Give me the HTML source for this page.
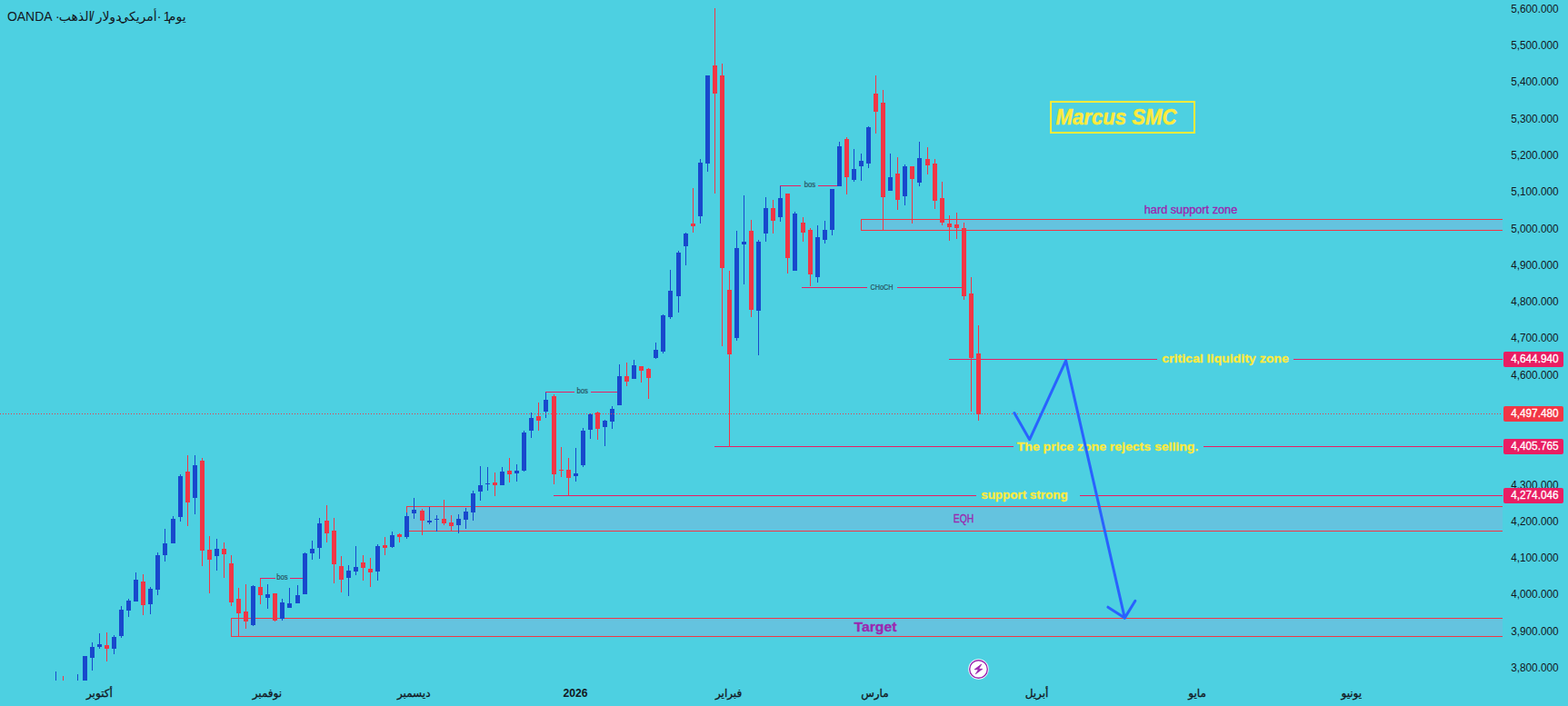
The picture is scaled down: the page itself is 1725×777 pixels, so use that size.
<!DOCTYPE html>
<html><head><meta charset="utf-8"><title>chart</title>
<style>html,body{margin:0;padding:0;background:#4DD0E1;overflow:hidden}body{width:1725px;height:777px;position:relative;font-family:"Liberation Sans",sans-serif}svg{position:absolute;left:0;top:0;display:block}text{font-family:"Liberation Sans","DejaVu Sans",sans-serif}</style>
</head><body>
<svg width="1725" height="777" viewBox="0 0 1725 777">
<rect x="0" y="0" width="1725" height="777" fill="#4DD0E1"/>
<g shape-rendering="crispEdges">
<rect x="947" y="241" width="706" height="13" fill="#64C3DF"/>
<rect x="947" y="241" width="706" height="1" fill="#F23645"/>
<rect x="947" y="253" width="706" height="1" fill="#F23645"/>
<rect x="947" y="241" width="1" height="13" fill="#F23645"/>
<rect x="447" y="557" width="1206" height="28" fill="#64C3DF"/>
<rect x="447" y="557" width="1206" height="1" fill="#F23645"/>
<rect x="447" y="584" width="1206" height="1" fill="#F23645"/>
<rect x="447" y="557" width="1" height="28" fill="#F23645"/>
<rect x="254" y="680" width="1399" height="21" fill="#64C3DF"/>
<rect x="254" y="680" width="1399" height="1" fill="#F23645"/>
<rect x="254" y="700" width="1399" height="1" fill="#F23645"/>
<rect x="254" y="680" width="1" height="21" fill="#F23645"/>
<rect x="1044" y="395" width="229" height="1" fill="#E91E63"/>
<rect x="1423" y="395" width="230" height="1" fill="#E91E63"/>
<rect x="786" y="491" width="329" height="1" fill="#E91E63"/>
<rect x="1324" y="491" width="329" height="1" fill="#E91E63"/>
<rect x="609" y="545" width="465" height="1" fill="#E91E63"/>
<rect x="1188" y="545" width="465" height="1" fill="#E91E63"/>
<rect x="882" y="316" width="72" height="1" fill="#E91E63"/>
<rect x="987" y="316" width="72" height="1" fill="#E91E63"/>
<rect x="286" y="636" width="17" height="1" fill="#E91E63"/>
<rect x="319" y="636" width="14" height="1" fill="#E91E63"/>
<rect x="600" y="431" width="32" height="1" fill="#E91E63"/>
<rect x="650" y="431" width="29" height="1" fill="#E91E63"/>
<rect x="858" y="204" width="23" height="1" fill="#E91E63"/>
<rect x="900" y="204" width="21" height="1" fill="#E91E63"/>
<rect x="61" y="739" width="1" height="10" fill="#1848CC"/>
<rect x="69" y="744" width="1" height="5" fill="#F23645"/>
<rect x="85" y="742" width="1" height="7" fill="#1848CC"/>
<rect x="93" y="722" width="1" height="27" fill="#1848CC"/>
<rect x="91" y="722" width="5" height="27" fill="#1848CC"/>
<rect x="101" y="707" width="1" height="31" fill="#1848CC"/>
<rect x="99" y="712" width="5" height="12" fill="#1848CC"/>
<rect x="109" y="697" width="1" height="17" fill="#1848CC"/>
<rect x="107" y="709" width="5" height="3" fill="#1848CC"/>
<rect x="117" y="696" width="1" height="32" fill="#F23645"/>
<rect x="115" y="710" width="5" height="4" fill="#F23645"/>
<rect x="125" y="699" width="1" height="21" fill="#1848CC"/>
<rect x="123" y="701" width="5" height="13" fill="#1848CC"/>
<rect x="133" y="667" width="1" height="35" fill="#1848CC"/>
<rect x="131" y="671" width="5" height="29" fill="#1848CC"/>
<rect x="141" y="659" width="1" height="20" fill="#1848CC"/>
<rect x="139" y="661" width="5" height="11" fill="#1848CC"/>
<rect x="149" y="630" width="1" height="32" fill="#1848CC"/>
<rect x="147" y="638" width="5" height="24" fill="#1848CC"/>
<rect x="157" y="632" width="1" height="45" fill="#F23645"/>
<rect x="155" y="640" width="5" height="26" fill="#F23645"/>
<rect x="165" y="646" width="1" height="30" fill="#1848CC"/>
<rect x="163" y="648" width="5" height="17" fill="#1848CC"/>
<rect x="173" y="608" width="1" height="47" fill="#1848CC"/>
<rect x="171" y="611" width="5" height="38" fill="#1848CC"/>
<rect x="181" y="582" width="1" height="36" fill="#1848CC"/>
<rect x="179" y="598" width="5" height="13" fill="#1848CC"/>
<rect x="190" y="568" width="1" height="30" fill="#1848CC"/>
<rect x="188" y="571" width="5" height="27" fill="#1848CC"/>
<rect x="198" y="522" width="1" height="52" fill="#1848CC"/>
<rect x="196" y="524" width="5" height="45" fill="#1848CC"/>
<rect x="206" y="501" width="1" height="78" fill="#F23645"/>
<rect x="204" y="519" width="5" height="34" fill="#F23645"/>
<rect x="214" y="501" width="1" height="65" fill="#1848CC"/>
<rect x="212" y="512" width="5" height="36" fill="#1848CC"/>
<rect x="222" y="504" width="1" height="119" fill="#F23645"/>
<rect x="220" y="507" width="5" height="99" fill="#F23645"/>
<rect x="230" y="590" width="1" height="63" fill="#F23645"/>
<rect x="228" y="605" width="5" height="11" fill="#F23645"/>
<rect x="238" y="593" width="1" height="35" fill="#1848CC"/>
<rect x="236" y="604" width="5" height="8" fill="#1848CC"/>
<rect x="246" y="597" width="1" height="39" fill="#F23645"/>
<rect x="244" y="604" width="5" height="6" fill="#F23645"/>
<rect x="254" y="611" width="1" height="56" fill="#F23645"/>
<rect x="252" y="620" width="5" height="43" fill="#F23645"/>
<rect x="262" y="647" width="1" height="53" fill="#F23645"/>
<rect x="260" y="659" width="5" height="16" fill="#F23645"/>
<rect x="270" y="643" width="1" height="49" fill="#F23645"/>
<rect x="268" y="673" width="5" height="11" fill="#F23645"/>
<rect x="278" y="644" width="1" height="45" fill="#1848CC"/>
<rect x="276" y="645" width="5" height="43" fill="#1848CC"/>
<rect x="286" y="637" width="1" height="28" fill="#F23645"/>
<rect x="284" y="646" width="5" height="9" fill="#F23645"/>
<rect x="294" y="643" width="1" height="27" fill="#1848CC"/>
<rect x="292" y="654" width="5" height="4" fill="#1848CC"/>
<rect x="302" y="653" width="1" height="31" fill="#F23645"/>
<rect x="300" y="653" width="5" height="30" fill="#F23645"/>
<rect x="310" y="659" width="1" height="24" fill="#1848CC"/>
<rect x="308" y="663" width="5" height="18" fill="#1848CC"/>
<rect x="318" y="647" width="1" height="22" fill="#1848CC"/>
<rect x="316" y="664" width="5" height="5" fill="#1848CC"/>
<rect x="327" y="644" width="1" height="20" fill="#1848CC"/>
<rect x="325" y="655" width="5" height="9" fill="#1848CC"/>
<rect x="335" y="608" width="1" height="46" fill="#1848CC"/>
<rect x="333" y="609" width="5" height="45" fill="#1848CC"/>
<rect x="343" y="595" width="1" height="21" fill="#1848CC"/>
<rect x="341" y="604" width="5" height="5" fill="#1848CC"/>
<rect x="351" y="570" width="1" height="45" fill="#1848CC"/>
<rect x="349" y="576" width="5" height="27" fill="#1848CC"/>
<rect x="359" y="556" width="1" height="41" fill="#F23645"/>
<rect x="357" y="573" width="5" height="14" fill="#F23645"/>
<rect x="367" y="570" width="1" height="72" fill="#F23645"/>
<rect x="365" y="584" width="5" height="37" fill="#F23645"/>
<rect x="375" y="612" width="1" height="40" fill="#F23645"/>
<rect x="373" y="623" width="5" height="15" fill="#F23645"/>
<rect x="383" y="622" width="1" height="34" fill="#1848CC"/>
<rect x="381" y="628" width="5" height="8" fill="#1848CC"/>
<rect x="391" y="601" width="1" height="32" fill="#1848CC"/>
<rect x="389" y="624" width="5" height="5" fill="#1848CC"/>
<rect x="399" y="611" width="1" height="28" fill="#F23645"/>
<rect x="397" y="619" width="5" height="6" fill="#F23645"/>
<rect x="407" y="614" width="1" height="32" fill="#F23645"/>
<rect x="405" y="626" width="5" height="4" fill="#F23645"/>
<rect x="415" y="599" width="1" height="40" fill="#1848CC"/>
<rect x="413" y="601" width="5" height="28" fill="#1848CC"/>
<rect x="423" y="591" width="1" height="20" fill="#F23645"/>
<rect x="421" y="600" width="5" height="3" fill="#F23645"/>
<rect x="431" y="585" width="1" height="18" fill="#1848CC"/>
<rect x="429" y="589" width="5" height="13" fill="#1848CC"/>
<rect x="439" y="587" width="1" height="10" fill="#F23645"/>
<rect x="437" y="588" width="5" height="3" fill="#F23645"/>
<rect x="447" y="564" width="1" height="29" fill="#1848CC"/>
<rect x="445" y="568" width="5" height="23" fill="#1848CC"/>
<rect x="455" y="548" width="1" height="23" fill="#1848CC"/>
<rect x="453" y="561" width="5" height="4" fill="#1848CC"/>
<rect x="464" y="560" width="1" height="29" fill="#F23645"/>
<rect x="462" y="562" width="5" height="11" fill="#F23645"/>
<rect x="472" y="558" width="1" height="19" fill="#1848CC"/>
<rect x="470" y="573" width="5" height="2" fill="#1848CC"/>
<rect x="480" y="567" width="1" height="18" fill="#1848CC"/>
<rect x="478" y="571" width="5" height="1" fill="#1848CC"/>
<rect x="488" y="550" width="1" height="28" fill="#F23645"/>
<rect x="486" y="571" width="5" height="5" fill="#F23645"/>
<rect x="496" y="567" width="1" height="17" fill="#F23645"/>
<rect x="494" y="575" width="5" height="4" fill="#F23645"/>
<rect x="504" y="566" width="1" height="21" fill="#1848CC"/>
<rect x="502" y="571" width="5" height="7" fill="#1848CC"/>
<rect x="512" y="559" width="1" height="23" fill="#1848CC"/>
<rect x="510" y="563" width="5" height="9" fill="#1848CC"/>
<rect x="520" y="540" width="1" height="33" fill="#1848CC"/>
<rect x="518" y="543" width="5" height="21" fill="#1848CC"/>
<rect x="528" y="513" width="1" height="38" fill="#1848CC"/>
<rect x="526" y="534" width="5" height="7" fill="#1848CC"/>
<rect x="536" y="514" width="1" height="26" fill="#1848CC"/>
<rect x="534" y="532" width="5" height="1" fill="#1848CC"/>
<rect x="544" y="520" width="1" height="26" fill="#F23645"/>
<rect x="542" y="531" width="5" height="3" fill="#F23645"/>
<rect x="552" y="514" width="1" height="20" fill="#1848CC"/>
<rect x="550" y="519" width="5" height="15" fill="#1848CC"/>
<rect x="560" y="504" width="1" height="27" fill="#F23645"/>
<rect x="558" y="518" width="5" height="4" fill="#F23645"/>
<rect x="568" y="511" width="1" height="19" fill="#1848CC"/>
<rect x="566" y="518" width="5" height="3" fill="#1848CC"/>
<rect x="576" y="474" width="1" height="45" fill="#1848CC"/>
<rect x="574" y="476" width="5" height="42" fill="#1848CC"/>
<rect x="584" y="454" width="1" height="28" fill="#1848CC"/>
<rect x="582" y="460" width="5" height="14" fill="#1848CC"/>
<rect x="592" y="443" width="1" height="31" fill="#F23645"/>
<rect x="590" y="458" width="5" height="5" fill="#F23645"/>
<rect x="600" y="432" width="1" height="28" fill="#1848CC"/>
<rect x="598" y="440" width="5" height="13" fill="#1848CC"/>
<rect x="609" y="434" width="1" height="99" fill="#F23645"/>
<rect x="607" y="436" width="5" height="86" fill="#F23645"/>
<rect x="617" y="492" width="1" height="33" fill="#F23645"/>
<rect x="615" y="517" width="5" height="1" fill="#F23645"/>
<rect x="625" y="504" width="1" height="41" fill="#F23645"/>
<rect x="623" y="517" width="5" height="9" fill="#F23645"/>
<rect x="633" y="493" width="1" height="37" fill="#1848CC"/>
<rect x="631" y="521" width="5" height="3" fill="#1848CC"/>
<rect x="641" y="471" width="1" height="43" fill="#1848CC"/>
<rect x="639" y="474" width="5" height="38" fill="#1848CC"/>
<rect x="649" y="455" width="1" height="28" fill="#1848CC"/>
<rect x="647" y="456" width="5" height="17" fill="#1848CC"/>
<rect x="657" y="453" width="1" height="31" fill="#F23645"/>
<rect x="655" y="454" width="5" height="18" fill="#F23645"/>
<rect x="665" y="462" width="1" height="29" fill="#1848CC"/>
<rect x="663" y="463" width="5" height="7" fill="#1848CC"/>
<rect x="673" y="447" width="1" height="25" fill="#1848CC"/>
<rect x="671" y="450" width="5" height="14" fill="#1848CC"/>
<rect x="681" y="401" width="1" height="45" fill="#1848CC"/>
<rect x="679" y="414" width="5" height="32" fill="#1848CC"/>
<rect x="689" y="399" width="1" height="26" fill="#F23645"/>
<rect x="687" y="414" width="5" height="6" fill="#F23645"/>
<rect x="697" y="396" width="1" height="21" fill="#1848CC"/>
<rect x="695" y="402" width="5" height="15" fill="#1848CC"/>
<rect x="705" y="403" width="1" height="18" fill="#F23645"/>
<rect x="703" y="403" width="5" height="5" fill="#F23645"/>
<rect x="713" y="405" width="1" height="34" fill="#F23645"/>
<rect x="711" y="406" width="5" height="10" fill="#F23645"/>
<rect x="721" y="377" width="1" height="18" fill="#1848CC"/>
<rect x="719" y="385" width="5" height="9" fill="#1848CC"/>
<rect x="729" y="346" width="1" height="43" fill="#1848CC"/>
<rect x="727" y="347" width="5" height="40" fill="#1848CC"/>
<rect x="737" y="297" width="1" height="54" fill="#1848CC"/>
<rect x="735" y="320" width="5" height="29" fill="#1848CC"/>
<rect x="746" y="276" width="1" height="68" fill="#1848CC"/>
<rect x="744" y="278" width="5" height="48" fill="#1848CC"/>
<rect x="754" y="256" width="1" height="36" fill="#1848CC"/>
<rect x="752" y="257" width="5" height="14" fill="#1848CC"/>
<rect x="762" y="207" width="1" height="49" fill="#F23645"/>
<rect x="760" y="246" width="5" height="3" fill="#F23645"/>
<rect x="770" y="175" width="1" height="71" fill="#1848CC"/>
<rect x="768" y="179" width="5" height="59" fill="#1848CC"/>
<rect x="778" y="83" width="1" height="106" fill="#1848CC"/>
<rect x="776" y="83" width="5" height="97" fill="#1848CC"/>
<rect x="786" y="9" width="1" height="204" fill="#F23645"/>
<rect x="784" y="72" width="5" height="31" fill="#F23645"/>
<rect x="794" y="70" width="1" height="311" fill="#F23645"/>
<rect x="792" y="83" width="5" height="212" fill="#F23645"/>
<rect x="802" y="298" width="1" height="194" fill="#F23645"/>
<rect x="800" y="319" width="5" height="71" fill="#F23645"/>
<rect x="810" y="254" width="1" height="121" fill="#1848CC"/>
<rect x="808" y="273" width="5" height="99" fill="#1848CC"/>
<rect x="818" y="215" width="1" height="98" fill="#1848CC"/>
<rect x="816" y="266" width="5" height="3" fill="#1848CC"/>
<rect x="826" y="242" width="1" height="107" fill="#F23645"/>
<rect x="824" y="254" width="5" height="87" fill="#F23645"/>
<rect x="834" y="264" width="1" height="127" fill="#1848CC"/>
<rect x="832" y="266" width="5" height="76" fill="#1848CC"/>
<rect x="842" y="217" width="1" height="49" fill="#1848CC"/>
<rect x="840" y="229" width="5" height="28" fill="#1848CC"/>
<rect x="850" y="220" width="1" height="37" fill="#F23645"/>
<rect x="848" y="229" width="5" height="14" fill="#F23645"/>
<rect x="858" y="205" width="1" height="39" fill="#1848CC"/>
<rect x="856" y="218" width="5" height="21" fill="#1848CC"/>
<rect x="866" y="213" width="1" height="88" fill="#F23645"/>
<rect x="864" y="213" width="5" height="71" fill="#F23645"/>
<rect x="874" y="233" width="1" height="65" fill="#1848CC"/>
<rect x="872" y="235" width="5" height="63" fill="#1848CC"/>
<rect x="883" y="239" width="1" height="27" fill="#F23645"/>
<rect x="881" y="245" width="5" height="11" fill="#F23645"/>
<rect x="891" y="251" width="1" height="64" fill="#F23645"/>
<rect x="889" y="253" width="5" height="49" fill="#F23645"/>
<rect x="899" y="248" width="1" height="63" fill="#1848CC"/>
<rect x="897" y="261" width="5" height="44" fill="#1848CC"/>
<rect x="907" y="243" width="1" height="25" fill="#1848CC"/>
<rect x="905" y="253" width="5" height="11" fill="#1848CC"/>
<rect x="915" y="208" width="1" height="51" fill="#1848CC"/>
<rect x="913" y="208" width="5" height="45" fill="#1848CC"/>
<rect x="923" y="156" width="1" height="49" fill="#1848CC"/>
<rect x="921" y="161" width="5" height="44" fill="#1848CC"/>
<rect x="931" y="151" width="1" height="63" fill="#F23645"/>
<rect x="929" y="153" width="5" height="42" fill="#F23645"/>
<rect x="939" y="164" width="1" height="36" fill="#1848CC"/>
<rect x="937" y="186" width="5" height="12" fill="#1848CC"/>
<rect x="947" y="169" width="1" height="30" fill="#1848CC"/>
<rect x="945" y="177" width="5" height="6" fill="#1848CC"/>
<rect x="955" y="139" width="1" height="46" fill="#1848CC"/>
<rect x="953" y="140" width="5" height="40" fill="#1848CC"/>
<rect x="963" y="83" width="1" height="64" fill="#F23645"/>
<rect x="961" y="103" width="5" height="20" fill="#F23645"/>
<rect x="971" y="99" width="1" height="154" fill="#F23645"/>
<rect x="969" y="113" width="5" height="104" fill="#F23645"/>
<rect x="979" y="169" width="1" height="41" fill="#1848CC"/>
<rect x="977" y="195" width="5" height="15" fill="#1848CC"/>
<rect x="987" y="173" width="1" height="58" fill="#F23645"/>
<rect x="985" y="191" width="5" height="29" fill="#F23645"/>
<rect x="995" y="181" width="1" height="45" fill="#1848CC"/>
<rect x="993" y="183" width="5" height="33" fill="#1848CC"/>
<rect x="1003" y="183" width="1" height="63" fill="#F23645"/>
<rect x="1001" y="183" width="5" height="14" fill="#F23645"/>
<rect x="1011" y="156" width="1" height="49" fill="#1848CC"/>
<rect x="1009" y="174" width="5" height="27" fill="#1848CC"/>
<rect x="1020" y="162" width="1" height="30" fill="#F23645"/>
<rect x="1018" y="175" width="5" height="7" fill="#F23645"/>
<rect x="1028" y="175" width="1" height="55" fill="#F23645"/>
<rect x="1026" y="180" width="5" height="41" fill="#F23645"/>
<rect x="1036" y="200" width="1" height="48" fill="#F23645"/>
<rect x="1034" y="218" width="5" height="27" fill="#F23645"/>
<rect x="1044" y="237" width="1" height="28" fill="#F23645"/>
<rect x="1042" y="246" width="5" height="4" fill="#F23645"/>
<rect x="1052" y="234" width="1" height="29" fill="#F23645"/>
<rect x="1050" y="247" width="5" height="4" fill="#F23645"/>
<rect x="1060" y="245" width="1" height="85" fill="#F23645"/>
<rect x="1058" y="251" width="5" height="75" fill="#F23645"/>
<rect x="1068" y="305" width="1" height="148" fill="#F23645"/>
<rect x="1066" y="323" width="5" height="71" fill="#F23645"/>
<rect x="1076" y="358" width="1" height="105" fill="#F23645"/>
<rect x="1074" y="389" width="5" height="67" fill="#F23645"/>
<path d="M0 455.5H1653" stroke="#F23645" stroke-width="1" stroke-dasharray="1 2" fill="none"/>
</g>
<text x="310.5" y="638.3" font-size="8.2" fill="#28535f" font-weight="normal" font-style="normal" text-anchor="middle" stroke="#28535f" stroke-width="0.2" stroke-linejoin="round" textLength="12.5" lengthAdjust="spacingAndGlyphs">bos</text>
<text x="640.7" y="433.3" font-size="8.2" fill="#28535f" font-weight="normal" font-style="normal" text-anchor="middle" stroke="#28535f" stroke-width="0.2" stroke-linejoin="round" textLength="12.5" lengthAdjust="spacingAndGlyphs">bos</text>
<text x="891" y="206.3" font-size="8.2" fill="#28535f" font-weight="normal" font-style="normal" text-anchor="middle" stroke="#28535f" stroke-width="0.2" stroke-linejoin="round" textLength="12.5" lengthAdjust="spacingAndGlyphs">bos</text>
<text x="970" y="319.3" font-size="9" fill="#28535f" font-weight="normal" font-style="normal" text-anchor="middle" stroke="#28535f" stroke-width="0.2" stroke-linejoin="round" textLength="25" lengthAdjust="spacingAndGlyphs">CHoCH</text>
<text x="1258.8" y="234.8" font-size="12" fill="#9C27B0" font-weight="normal" font-style="normal" text-anchor="start" stroke="#9C27B0" stroke-width="0.35" stroke-linejoin="round" textLength="102.4" lengthAdjust="spacingAndGlyphs">hard support zone</text>
<text x="1278.2" y="399" font-size="13.5" fill="#FFEB3B" font-weight="bold" font-style="normal" text-anchor="start" stroke="#FFEB3B" stroke-width="0.3" stroke-linejoin="round" textLength="139.6" lengthAdjust="spacingAndGlyphs">critical liquidity zone</text>
<text x="1118.8" y="495.8" font-size="13.5" fill="#FFEB3B" font-weight="bold" font-style="normal" text-anchor="start" stroke="#FFEB3B" stroke-width="0.3" stroke-linejoin="round" textLength="199.5" lengthAdjust="spacingAndGlyphs">The price zone rejects selling.</text>
<text x="1079.2" y="548.8" font-size="13.5" fill="#FFEB3B" font-weight="bold" font-style="normal" text-anchor="start" stroke="#FFEB3B" stroke-width="0.3" stroke-linejoin="round" textLength="95.4" lengthAdjust="spacingAndGlyphs">support strong</text>
<text x="1048.8" y="574.8" font-size="12" fill="#9C27B0" font-weight="normal" font-style="normal" text-anchor="start" stroke="#9C27B0" stroke-width="0.35" stroke-linejoin="round" textLength="22.5" lengthAdjust="spacingAndGlyphs">EQH</text>
<text x="939.5" y="694.8" font-size="15" fill="#9C27B0" font-weight="bold" font-style="normal" text-anchor="start" stroke="#9C27B0" stroke-width="0.3" stroke-linejoin="round" textLength="47" lengthAdjust="spacingAndGlyphs">Target</text>
<rect x="1156" y="112" width="158" height="34" fill="none" stroke="#FFEB3B" stroke-width="2" shape-rendering="crispEdges"/>
<text x="1161.5" y="137.2" font-size="24" fill="#FFEB3B" font-weight="bold" font-style="italic" text-anchor="start" stroke="#FFEB3B" stroke-width="0.5" stroke-linejoin="round" textLength="133" lengthAdjust="spacingAndGlyphs">Marcus SMC</text>
<path d="M1115.9 454.6L1132.6 483.8L1172.6 396.9L1237.3 680.1" stroke="#2962FF" stroke-width="3" fill="none" stroke-linejoin="round" stroke-linecap="round"/>
<path d="M1218.9 668.2L1237.3 680.1L1248.9 661.3" stroke="#2962FF" stroke-width="3" fill="none" stroke-linejoin="round" stroke-linecap="round"/>
<text x="1662.2" y="13.8" font-size="12" fill="#131722" font-weight="normal" font-style="normal" text-anchor="start" textLength="52.4" lengthAdjust="spacingAndGlyphs">5,600.000</text>
<text x="1662.2" y="54.0" font-size="12" fill="#131722" font-weight="normal" font-style="normal" text-anchor="start" textLength="52.4" lengthAdjust="spacingAndGlyphs">5,500.000</text>
<text x="1662.2" y="94.3" font-size="12" fill="#131722" font-weight="normal" font-style="normal" text-anchor="start" textLength="52.4" lengthAdjust="spacingAndGlyphs">5,400.000</text>
<text x="1662.2" y="134.6" font-size="12" fill="#131722" font-weight="normal" font-style="normal" text-anchor="start" textLength="52.4" lengthAdjust="spacingAndGlyphs">5,300.000</text>
<text x="1662.2" y="174.9" font-size="12" fill="#131722" font-weight="normal" font-style="normal" text-anchor="start" textLength="52.4" lengthAdjust="spacingAndGlyphs">5,200.000</text>
<text x="1662.2" y="215.2" font-size="12" fill="#131722" font-weight="normal" font-style="normal" text-anchor="start" textLength="52.4" lengthAdjust="spacingAndGlyphs">5,100.000</text>
<text x="1662.2" y="255.5" font-size="12" fill="#131722" font-weight="normal" font-style="normal" text-anchor="start" textLength="52.4" lengthAdjust="spacingAndGlyphs">5,000.000</text>
<text x="1662.2" y="295.8" font-size="12" fill="#131722" font-weight="normal" font-style="normal" text-anchor="start" textLength="52.4" lengthAdjust="spacingAndGlyphs">4,900.000</text>
<text x="1662.2" y="336.1" font-size="12" fill="#131722" font-weight="normal" font-style="normal" text-anchor="start" textLength="52.4" lengthAdjust="spacingAndGlyphs">4,800.000</text>
<text x="1662.2" y="376.4" font-size="12" fill="#131722" font-weight="normal" font-style="normal" text-anchor="start" textLength="52.4" lengthAdjust="spacingAndGlyphs">4,700.000</text>
<text x="1662.2" y="416.7" font-size="12" fill="#131722" font-weight="normal" font-style="normal" text-anchor="start" textLength="52.4" lengthAdjust="spacingAndGlyphs">4,600.000</text>
<text x="1662.2" y="456.9" font-size="12" fill="#131722" font-weight="normal" font-style="normal" text-anchor="start" textLength="52.4" lengthAdjust="spacingAndGlyphs">4,500.000</text>
<text x="1662.2" y="497.2" font-size="12" fill="#131722" font-weight="normal" font-style="normal" text-anchor="start" textLength="52.4" lengthAdjust="spacingAndGlyphs">4,400.000</text>
<text x="1662.2" y="537.5" font-size="12" fill="#131722" font-weight="normal" font-style="normal" text-anchor="start" textLength="52.4" lengthAdjust="spacingAndGlyphs">4,300.000</text>
<text x="1662.2" y="577.8" font-size="12" fill="#131722" font-weight="normal" font-style="normal" text-anchor="start" textLength="52.4" lengthAdjust="spacingAndGlyphs">4,200.000</text>
<text x="1662.2" y="618.1" font-size="12" fill="#131722" font-weight="normal" font-style="normal" text-anchor="start" textLength="52.4" lengthAdjust="spacingAndGlyphs">4,100.000</text>
<text x="1662.2" y="658.4" font-size="12" fill="#131722" font-weight="normal" font-style="normal" text-anchor="start" textLength="52.4" lengthAdjust="spacingAndGlyphs">4,000.000</text>
<text x="1662.2" y="698.7" font-size="12" fill="#131722" font-weight="normal" font-style="normal" text-anchor="start" textLength="52.4" lengthAdjust="spacingAndGlyphs">3,900.000</text>
<text x="1662.2" y="739.0" font-size="12" fill="#131722" font-weight="normal" font-style="normal" text-anchor="start" textLength="52.4" lengthAdjust="spacingAndGlyphs">3,800.000</text>
<rect x="1654" y="387" width="66" height="17" rx="2" ry="2" fill="#E91E63"/>
<text x="1662.2" y="398.9" font-size="12" fill="#ffffff" font-weight="normal" font-style="normal" text-anchor="start" stroke="#ffffff" stroke-width="0.3" stroke-linejoin="round" textLength="52.4" lengthAdjust="spacingAndGlyphs">4,644.940</text>
<rect x="1654" y="447" width="66" height="17" rx="2" ry="2" fill="#F23645"/>
<text x="1662.2" y="458.9" font-size="12" fill="#ffffff" font-weight="normal" font-style="normal" text-anchor="start" stroke="#ffffff" stroke-width="0.3" stroke-linejoin="round" textLength="52.4" lengthAdjust="spacingAndGlyphs">4,497.480</text>
<rect x="1654" y="483" width="66" height="17" rx="2" ry="2" fill="#E91E63"/>
<text x="1662.2" y="494.9" font-size="12" fill="#ffffff" font-weight="normal" font-style="normal" text-anchor="start" stroke="#ffffff" stroke-width="0.3" stroke-linejoin="round" textLength="52.4" lengthAdjust="spacingAndGlyphs">4,405.765</text>
<rect x="1654" y="537" width="66" height="17" rx="2" ry="2" fill="#E91E63"/>
<text x="1662.2" y="548.9" font-size="12" fill="#ffffff" font-weight="normal" font-style="normal" text-anchor="start" stroke="#ffffff" stroke-width="0.3" stroke-linejoin="round" textLength="52.4" lengthAdjust="spacingAndGlyphs">4,274.046</text>
<text x="632.9" y="767" font-size="12" fill="#131722" font-weight="bold" font-style="normal" text-anchor="middle" textLength="27" lengthAdjust="spacingAndGlyphs">2026</text>
<text x="109.4" y="766.8" font-size="12" fill="#131722" stroke="#131722" stroke-width="0.3" text-anchor="middle">أكتوبر</text>
<text x="293.9" y="766.8" font-size="12" fill="#131722" stroke="#131722" stroke-width="0.3" text-anchor="middle">نوفمبر</text>
<text x="455.2" y="766.8" font-size="12" fill="#131722" stroke="#131722" stroke-width="0.3" text-anchor="middle">ديسمبر</text>
<text x="801.6" y="766.8" font-size="12" fill="#131722" stroke="#131722" stroke-width="0.3" text-anchor="middle">فبراير</text>
<text x="962.4" y="766.8" font-size="12" fill="#131722" stroke="#131722" stroke-width="0.3" text-anchor="middle">مارس</text>
<text x="1140.5" y="766.8" font-size="12" fill="#131722" stroke="#131722" stroke-width="0.3" text-anchor="middle">أبريل</text>
<text x="1317.1" y="766.8" font-size="12" fill="#131722" stroke="#131722" stroke-width="0.3" text-anchor="middle">مايو</text>
<text x="1486.8" y="766.8" font-size="12" fill="#131722" stroke="#131722" stroke-width="0.3" text-anchor="middle">يونيو</text>
<text x="8" y="23" font-size="14" fill="#131722" font-weight="normal" font-style="normal" text-anchor="start" textLength="49.5" lengthAdjust="spacingAndGlyphs">OANDA</text>
<text x="63.3" y="23" font-size="14" fill="#131722" font-weight="normal" font-style="normal" text-anchor="middle">&#183;</text>
<text x="83" y="23" font-size="14" fill="#131722" font-weight="normal" font-style="normal" text-anchor="middle">الذهب</text>
<text x="101.7" y="23" font-size="14" fill="#131722" font-weight="normal" font-style="normal" text-anchor="middle">/</text>
<text x="119.5" y="23" font-size="14" fill="#131722" font-weight="normal" font-style="normal" text-anchor="middle">دولار</text>
<text x="151.5" y="23" font-size="14" fill="#131722" font-weight="normal" font-style="normal" text-anchor="middle">أمريكي</text>
<text x="175.1" y="23" font-size="14" fill="#131722" font-weight="normal" font-style="normal" text-anchor="middle">&#183;</text>
<text x="179.8" y="23" font-size="14" fill="#131722" font-weight="normal" font-style="normal" text-anchor="start">1</text>
<text x="194.7" y="23" font-size="14" fill="#131722" font-weight="normal" font-style="normal" text-anchor="middle">يوم</text>
<g transform="translate(1076.5 736.5)"><circle r="11.2" fill="#ffffff"/><circle r="9.8" fill="#ffffff" stroke="#9C27B0" stroke-width="1.4"/><path d="M3.2 -5.4L-4.4 0.3L0 0.3L-3.2 5.3L4.2 -0.2L0.2 -0.2Z" fill="#9C27B0" stroke="#9C27B0" stroke-width="0.8" stroke-linejoin="round"/></g>
</svg>
</body></html>
